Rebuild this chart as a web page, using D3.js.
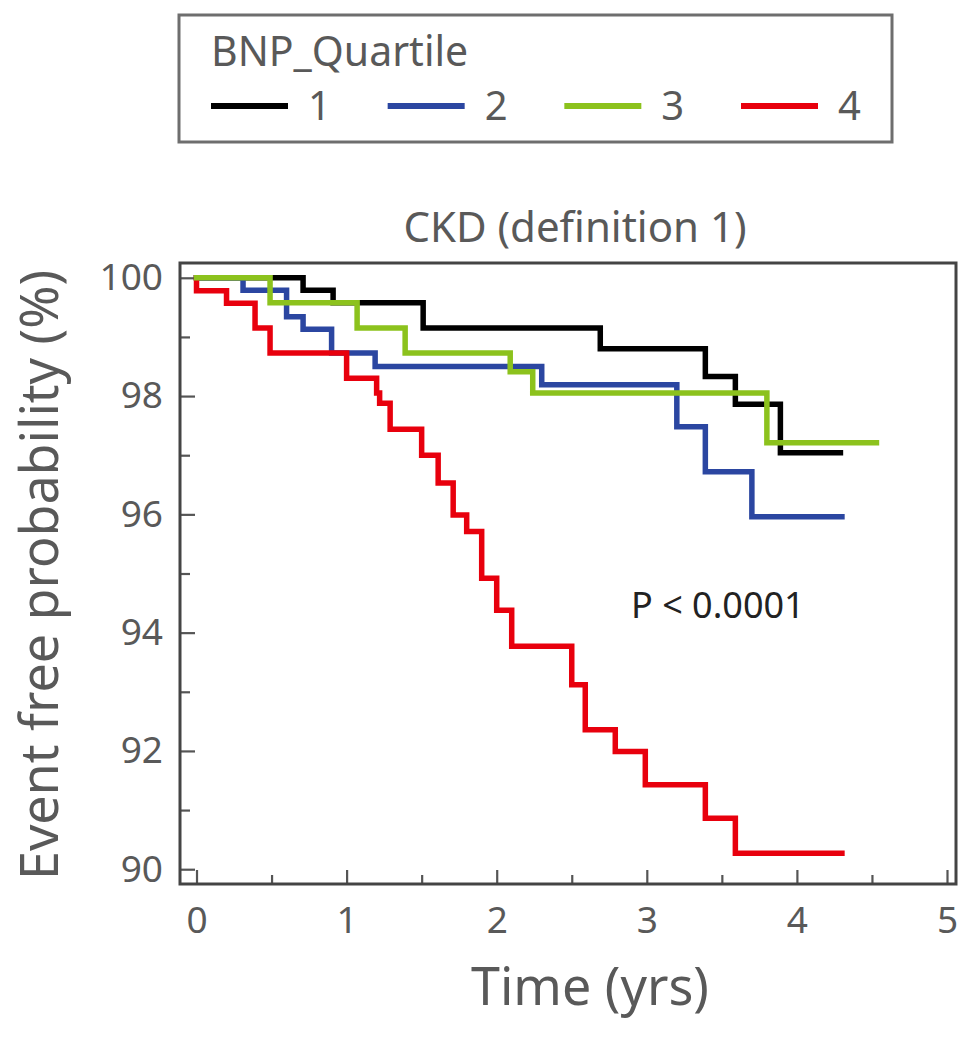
<!DOCTYPE html>
<html>
<head>
<meta charset="utf-8">
<script src="https://cdn.jsdelivr.net/npm/d3@7"></script>
<style>
  html, body { margin: 0; padding: 0; background: #ffffff; }
  svg { display: block; font-family: "Noto Sans", "Open Sans", sans-serif; }
</style>
</head>
<body>
<svg id="chart" width="975" height="1037"></svg>
<script>
// Kaplan–Meier event-free curves by BNP quartile (time in years, survival in %)
const quartileNames = ["1", "2", "3", "4"];
const quartileColors = ["#000000", "#2b46a1", "#8cc21d", "#e8000d"];

const q1Times = [0, 0.71, 0.91, 1.51, 2.69, 3.39, 3.59, 3.89, 4.29];
const q1Surv  = [100, 99.79, 99.58, 99.15, 98.80, 98.33, 97.86, 97.04, 97.04];

const q2Times = [0, 0.31, 0.60, 0.71, 0.90, 1.19, 2.30, 3.20, 3.39, 3.70, 4.30];
const q2Surv  = [100, 99.79, 99.34, 99.13, 98.73, 98.50, 98.19, 97.48, 96.72, 95.96, 95.96];

const q3Times = [0, 0.49, 1.07, 1.39, 2.09, 2.24, 3.80, 4.53];
const q3Surv  = [100, 99.58, 99.15, 98.73, 98.41, 98.05, 97.21, 97.21];

const q4Times = [0, 0, 0.20, 0.39, 0.49, 1.00, 1.20, 1.22, 1.29, 1.50, 1.61, 1.71, 1.80, 1.90, 2.00,
                 2.10, 2.50, 2.59, 2.79, 2.99, 3.39, 3.59, 4.30];
const q4Surv  = [100, 99.78, 99.57, 99.15, 98.73, 98.30, 98.05, 97.88, 97.44, 97.00, 96.53, 95.99, 95.71, 94.92, 94.38,
                 93.77, 93.12, 92.36, 91.99, 91.43, 90.86, 90.27, 90.27];

const xMajorTicks = [0, 1, 2, 3, 4, 5];
const xMinorTicks = [0.5, 1.5, 2.5, 3.5, 4.5];
const yMajorTicks = [90, 92, 94, 96, 98, 100];
const yMinorTicks = [91, 93, 95, 97, 99];

const chartTitle = "CKD (definition 1)";
const xTitle = "Time (yrs)";
const yTitle = "Event free probability (%)";
const legendTitle = "BNP_Quartile";
const pValueText = "P < 0.0001";

const series = [
  { name: quartileNames[0], color: quartileColors[0], t: q1Times, s: q1Surv },
  { name: quartileNames[1], color: quartileColors[1], t: q2Times, s: q2Surv },
  { name: quartileNames[2], color: quartileColors[2], t: q3Times, s: q3Surv },
  { name: quartileNames[3], color: quartileColors[3], t: q4Times, s: q4Surv }
];

const svg = d3.select("#chart");
const textGray = "#595959";
const axisGray = "#444444";

// plot frame
const plot = { left: 180, right: 956, top: 263, bottom: 884 };

const x = d3.scaleLinear().domain([-0.11, 5.06]).range([plot.left, plot.right]);
const y = d3.scaleLinear().domain([89.75, 100.25]).range([plot.bottom, plot.top]);

// ---- legend box ----
const legend = svg.append("g");
legend.append("rect")
  .attr("x", 179).attr("y", 15).attr("width", 713).attr("height", 127)
  .attr("fill", "#ffffff").attr("stroke", "#6e6e6e").attr("stroke-width", 3);
legend.append("text")
  .attr("x", 211).attr("y", 66)
  .attr("font-size", 41).attr("fill", textGray)
  .text(legendTitle);

const legendX = d3.scalePoint().domain(quartileNames).range([211, 741]);
const item = legend.selectAll("g.item").data(series).join("g")
  .attr("class", "item")
  .attr("transform", d => `translate(${legendX(d.name)},106)`);
item.append("line")
  .attr("x1", 0).attr("x2", 77).attr("y1", 0).attr("y2", 0)
  .attr("stroke", d => d.color).attr("stroke-width", 6);
item.append("text")
  .attr("x", 97).attr("y", 14)
  .attr("font-size", 40).attr("fill", textGray)
  .text(d => d.name);

// ---- title ----
svg.append("text")
  .attr("x", 575).attr("y", 242)
  .attr("text-anchor", "middle")
  .attr("font-size", 42).attr("fill", textGray)
  .text(chartTitle);

// ---- axes (ticks point inward) ----
const yAxisMajor = d3.axisLeft(y).tickValues(yMajorTicks).tickSize(-15).tickPadding(17).tickFormat(d3.format("d"));
const yAxisMinor = d3.axisLeft(y).tickValues(yMinorTicks).tickSize(-10).tickFormat("");
const xAxisMajor = d3.axisBottom(x).tickValues(xMajorTicks).tickSize(-14).tickPadding(23).tickFormat(d3.format("d"));
const xAxisMinor = d3.axisBottom(x).tickValues(xMinorTicks).tickSize(-9).tickFormat("");

function styleAxis(g) {
  g.select(".domain").remove();
  g.selectAll(".tick line").attr("stroke", "#555555").attr("stroke-width", 2.2);
  g.selectAll(".tick text").attr("fill", textGray).attr("font-size", 37)
    .attr("font-family", "\"Noto Sans\", \"Open Sans\", sans-serif");
}

svg.append("g").attr("transform", `translate(${plot.left},0)`).call(yAxisMajor).call(styleAxis);
svg.append("g").attr("transform", `translate(${plot.left},0)`).call(yAxisMinor).call(styleAxis);
svg.append("g").attr("transform", `translate(0,${plot.bottom})`).call(xAxisMajor).call(styleAxis);
svg.append("g").attr("transform", `translate(0,${plot.bottom})`).call(xAxisMinor).call(styleAxis);

// ---- survival step curves ----
const step = d3.line()
  .x(d => x(d[0]))
  .y(d => y(d[1]))
  .curve(d3.curveStepAfter);

// draw order: 1, 2, 4, then 3 on top
const drawOrder = [0, 1, 3, 2];
svg.append("g").selectAll("path.km").data(drawOrder.map(i => series[i])).join("path")
  .attr("class", "km")
  .attr("d", d => step(d3.zip(d.t, d.s)))
  .attr("fill", "none")
  .attr("stroke", d => d.color)
  .attr("stroke-width", 5.5)
  .attr("stroke-linejoin", "miter")
  .attr("stroke-linecap", "square");

// ---- frame ----
svg.append("rect")
  .attr("x", plot.left).attr("y", plot.top)
  .attr("width", plot.right - plot.left).attr("height", plot.bottom - plot.top)
  .attr("fill", "none").attr("stroke", axisGray).attr("stroke-width", 3);

// ---- p-value annotation ----
svg.append("text")
  .attr("x", 631).attr("y", 618)
  .attr("font-size", 36).attr("fill", "#222222")
  .text(pValueText);

// ---- axis titles ----
svg.append("text")
  .attr("x", 590).attr("y", 1005)
  .attr("text-anchor", "middle")
  .attr("font-size", 52).attr("fill", textGray)
  .text(xTitle);

svg.append("text")
  .attr("transform", "translate(58,575) rotate(-90)")
  .attr("text-anchor", "middle")
  .attr("font-size", 52).attr("fill", textGray)
  .text(yTitle);
</script>
</body>
</html>
